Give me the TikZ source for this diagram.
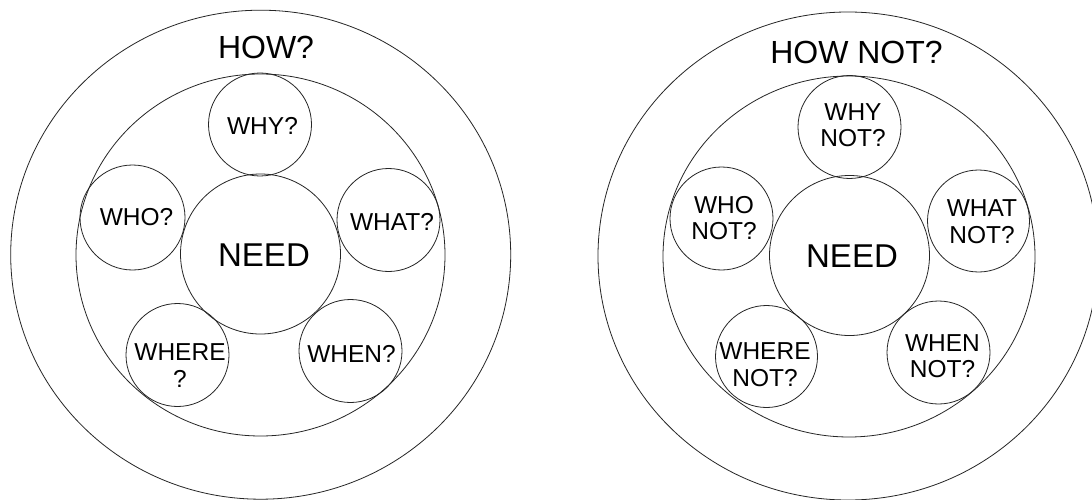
\documentclass[tikz,border=0pt]{standalone}
\usepackage{fontspec}
\setmainfont{Liberation Sans}
\begin{document}
\begin{tikzpicture}[x=1pt,y=-1pt,
  ring/.style={draw=black!85,line width=0.8pt},
  bub/.style={circle,draw=black!85,line width=0.8pt,inner sep=0pt,minimum size=#1},
  lbl/.style={inner sep=0pt,align=center,font=\fontsize{24.5}{26.5}\selectfont},
  big/.style={inner sep=0pt,font=\fontsize{33}{36}\selectfont},
  ttl/.style={inner sep=0pt,font=\fontsize{32}{36}\selectfont}]
\useasboundingbox (0,0) rectangle (1092,500);
\clip (0,0) rectangle (1092,500);
\fill[white] (0,0) rectangle (1092,500);
% ---------- left diagram ----------
\coordinate (Lc) at (260.7,254.7);
\draw[ring] (Lc) ellipse [x radius=250, y radius=244.5];
\draw[ring] (260.5,255) ellipse [x radius=184.5, y radius=181];
\node[bub=160pt] (Lneed) at (260.5,254) {};
\node[bub=103pt] (Lwhy) at (260,124.5) {};
\node[bub=105pt] (Lwho) at (132.5,217.5) {};
\node[bub=103pt] (Lwhat) at (388.5,220) {};
\node[bub=103pt] (Lwhere) at (177.5,355) {};
\node[bub=103pt] (Lwhen) at (350.5,351) {};
\node[ttl] (Lhow) at (266,47.5) {HOW?};
\node[big] (LneedT) at (264,255) {NEED};
\node[lbl] (LwhyT) at (262.5,126) {WHY?};
\node[lbl] (LwhoT) at (136.5,217.5) {WHO?};
\node[lbl] (LwhatT) at (392,221.5) {WHAT?};
\node[lbl] (LwhereT) at (180,365.5) {WHERE\\?};
\node[lbl] (LwhenT) at (351.5,354) {WHEN?};
% ---------- right diagram ----------
\coordinate (Rc) at (848,256);
\draw[ring] (Rc) ellipse [x radius=250, y radius=244];
\draw[ring] (849,256.5) ellipse [x radius=186, y radius=180.5];
\node[bub=160pt] (Rneed) at (849.5,255.5) {};
\node[bub=103pt] (Rwhy) at (849.5,127) {};
\node[bub=103pt] (Rwho) at (721.5,218.5) {};
\node[bub=102pt] (Rwhat) at (978.5,221) {};
\node[bub=102pt] (Rwhere) at (766.5,356.5) {};
\node[bub=103pt] (Rwhen) at (938.5,352.5) {};
\node[ttl] (Rhow) at (856.5,52) {HOW NOT?};
\node[big] (RneedT) at (852,256.5) {NEED};
\node[lbl] (RwhyT) at (853,125) {WHY\\NOT?};
\node[lbl] (RwhoT) at (724,218.3) {WHO\\NOT?};
\node[lbl] (RwhatT) at (982,221.5) {WHAT\\NOT?};
\node[lbl] (RwhereT) at (765,364.5) {WHERE\\NOT?};
\node[lbl] (RwhenT) at (942.5,356) {WHEN\\NOT?};
\end{tikzpicture}
\end{document}
